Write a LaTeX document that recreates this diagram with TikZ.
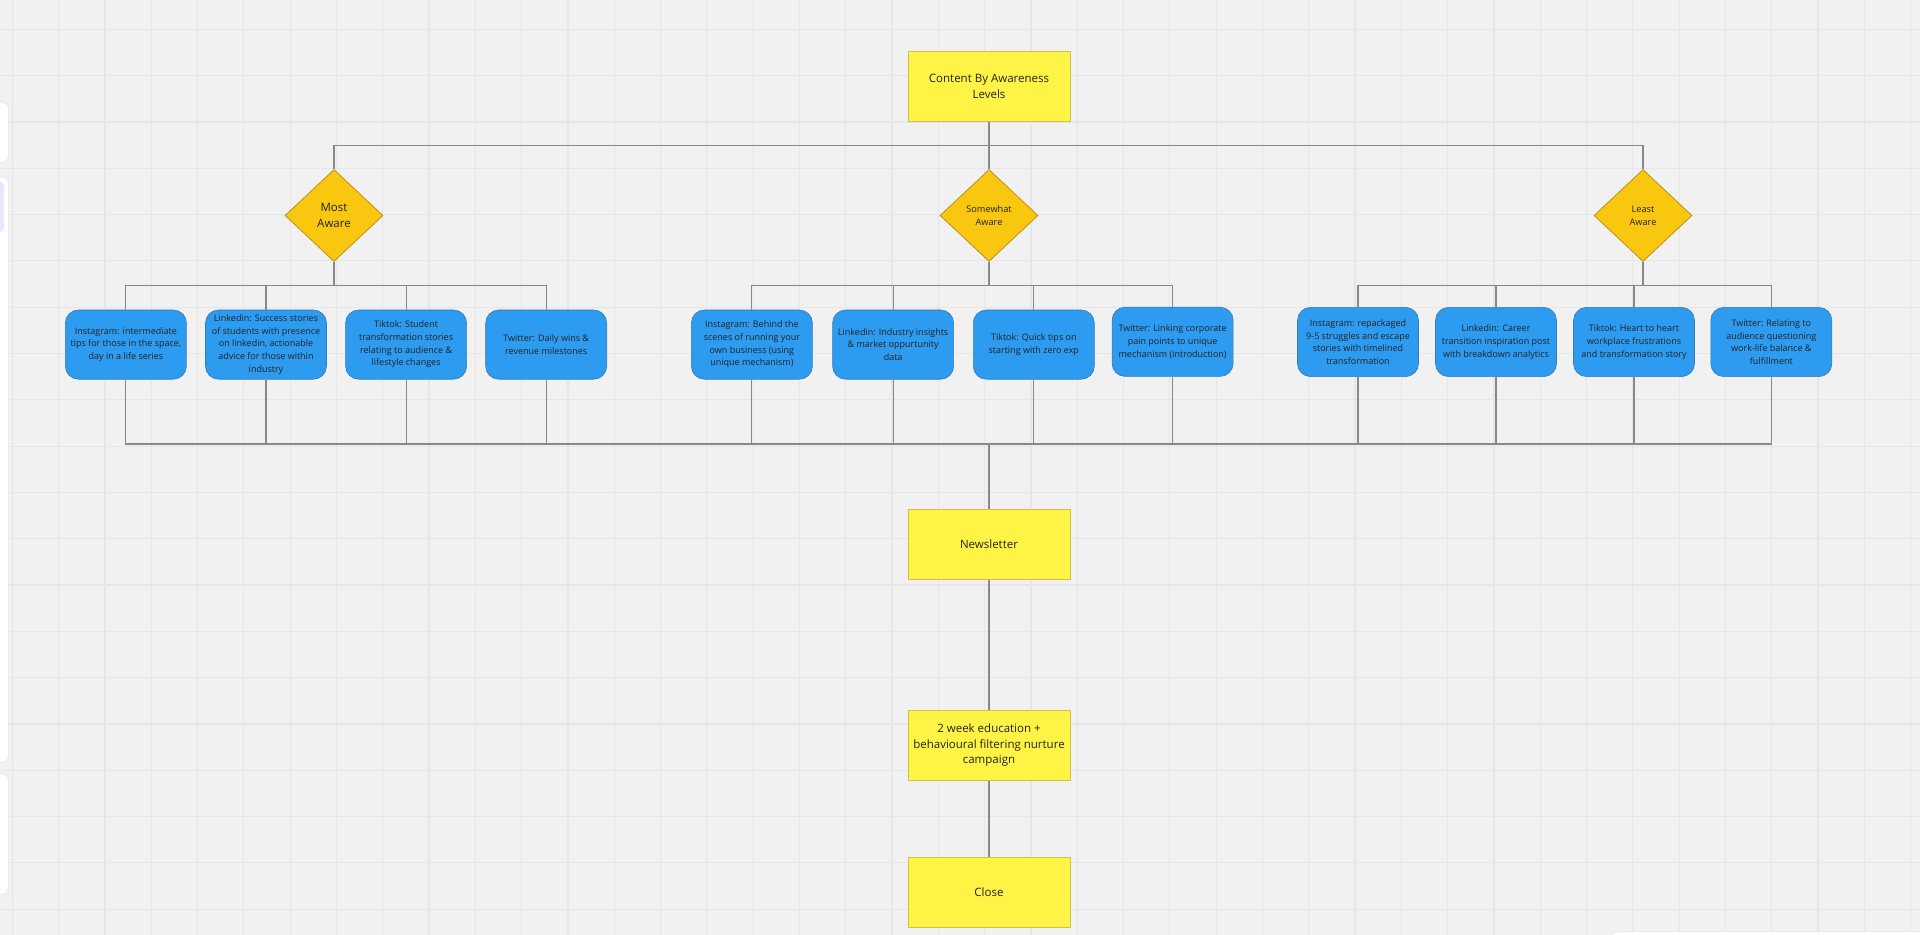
\documentclass[tikz,border=0pt]{standalone}
\usepackage{fontspec}
\setmainfont{Open Sans}
\usetikzlibrary{positioning,shapes.geometric}
\definecolor{canvas}{HTML}{F1F1F1}
\definecolor{gridgray}{HTML}{E6E6E6}
\definecolor{sticky}{HTML}{FFF445}
\definecolor{stickyedge}{HTML}{CFC24A}
\definecolor{levelfill}{HTML}{FAC710}
\definecolor{leveledge}{HTML}{B89214}
\definecolor{postfill}{HTML}{2D9BF0}
\definecolor{postedge}{HTML}{3A78B0}
\definecolor{wire}{HTML}{888888}
\definecolor{ink}{HTML}{222222}
\definecolor{panelsel}{HTML}{E6E9FB}

\begin{document}
\begin{tikzpicture}[
  x=0.5pt, y=-0.5pt,
  topic/.style={draw=stickyedge, fill=sticky, line width=0.4pt,
                minimum width=81pt, minimum height=35pt, inner sep=0pt,
                align=center, text=ink, font=\fontsize{5.75}{7.9}\selectfont},
  level/.style={diamond, draw=leveledge, fill=levelfill, line width=0.4pt,
                minimum width=49pt, minimum height=46pt, inner sep=0pt,
                align=center, text=ink, font=\fontsize{5.75}{7.9}\selectfont},
  small/.style={font=\fontsize{4.6}{6.3}\selectfont},
  post/.style={draw=postedge, fill=postfill, rounded corners=6.5pt, line width=0.3pt,
               minimum width=60.5pt, minimum height=34.6pt, inner sep=0pt,
               align=center, text=ink, font=\fontsize{4.5}{6.35}\selectfont},
  link/.style={draw=wire, line width=0.55pt},
  gridline/.style={draw=gridgray, line width=0.6pt}
]
\useasboundingbox (0,0) rectangle (1920,935);
\fill[canvas] (0,0) rectangle (1920,935);

% board grid
\foreach \i in {0,...,41}
  \draw[gridline] ({12.3+46.3*\i},0) -- ({12.3+46.3*\i},935);
\foreach \j in {0,...,19}
  \draw[gridline] (0,{29.4+46.3*\j}) -- (1920,{29.4+46.3*\j});

% side panels
\filldraw[fill=white, draw=gridgray, line width=0.3pt, rounded corners=3pt] (-20,102.7) rectangle (8.3,162.7);
\filldraw[fill=white, draw=gridgray, line width=0.3pt, rounded corners=3pt] (-20,177) rectangle (8.3,762);
\fill[panelsel, rounded corners=2pt] (-20,182) rectangle (4,232);
\filldraw[fill=white, draw=gridgray, line width=0.3pt, rounded corners=3pt] (-20,774) rectangle (8.3,894);
\filldraw[fill=white, draw=gridgray, line width=0.3pt, rounded corners=4pt] (1610.7,931.7) rectangle (1960,980);

% awareness levels
\node[topic] (levels) at (989,86.5) {Content By Awareness\\Levels};
\node[level] (most) at (334,215.5) {Most\\Aware};
\node[level, small] (somewhat) at (989,215.5) {Somewhat\\Aware};
\node[level, small] (least) at (1643,215.5) {Least\\Aware};

% most aware posts
\node[post] (mInsta) at (125.9,344.6) {Instagram: intermediate\\tips for those in the space,\\day in a life series};
\node[post, right=9.25pt of mInsta] (mLinked) {Linkedin: Success stories\\of students with presence\\on linkedin, actionable\\advice for those within\\industry};
\node[post, right=9.25pt of mLinked] (mTiktok) {Tiktok: Student\\transformation stories\\relating to audience \&\\lifestyle changes};
\node[post, right=9.25pt of mTiktok] (mTwitter) {Twitter: Daily wins \&\\revenue milestones};

% somewhat aware posts
\node[post] (sInsta) at (751.9,344.6) {Instagram: Behind the\\scenes of running your\\own business (using\\unique mechanism)};
\node[post, right=9.8pt of sInsta] (sLinked) {Linkedin: Industry insights\\\& market oppurtunity\\data};
\node[post, right=9.55pt of sLinked] (sTiktok) {Tiktok: Quick tips on\\starting with zero exp};
\node[post, right=8.6pt of sTiktok, yshift=1.4pt] (sTwitter) {Twitter: Linking corporate\\pain points to unique\\mechanism (introduction)};

% least aware posts
\node[post] (lInsta) at (1358,342) {Instagram: repackaged\\9-5 struggles and escape\\stories with timelined\\transformation};
\node[post, right=8.2pt of lInsta] (lLinked) {Linkedin: Career\\transition inspiration post\\with breakdown analytics};
\node[post, right=8.2pt of lLinked] (lTiktok) {Tiktok: Heart to heart\\workplace frustrations\\and transformation story};
\node[post, right=7.85pt of lTiktok] (lTwitter) {Twitter: Relating to\\audience questioning\\work-life balance \&\\fulfillment};

% funnel
\node[topic] (news) at (989,544.3) {Newsletter};
\node[topic, below=65pt of news] (nurture) {2 week education +\\behavioural filtering nurture\\campaign};
\node[topic, below=38pt of nurture] (close) {Close};

% tree connectors
\draw[link] (levels.south) -- ++(0,24) coordinate (fork)
  (fork) -| (most.north) (fork) -| (least.north) (fork) -- (somewhat.north);
\draw[link] (most.south) -- ++(0,24) coordinate (mBus)
  (mBus) -| (mInsta.north) (mBus) -| (mLinked.north)
  (mBus) -| (mTiktok.north) (mBus) -| (mTwitter.north);
\draw[link] (somewhat.south) -- ++(0,24) coordinate (sBus)
  (sBus) -| (sInsta.north) (sBus) -| (sLinked.north)
  (sBus) -| (sTiktok.north) (sBus) -| (sTwitter.north);
\draw[link] (least.south) -- ++(0,24) coordinate (lBus)
  (lBus) -| (lInsta.north) (lBus) -| (lLinked.north)
  (lBus) -| (lTiktok.north) (lBus) -| (lTwitter.north);

\coordinate (join) at (989,444);
\draw[link] (mInsta.south) |- (join) (mLinked.south) |- (join)
  (mTiktok.south) |- (join) (mTwitter.south) |- (join)
  (sInsta.south) |- (join) (sLinked.south) |- (join)
  (sTiktok.south) |- (join) (sTwitter.south) |- (join)
  (lInsta.south) |- (join) (lLinked.south) |- (join)
  (lTiktok.south) |- (join) (lTwitter.south) |- (join);
\draw[link] (join) -- (news.north);
\draw[link] (news) -- (nurture) (nurture) -- (close);
\end{tikzpicture}
\end{document}
